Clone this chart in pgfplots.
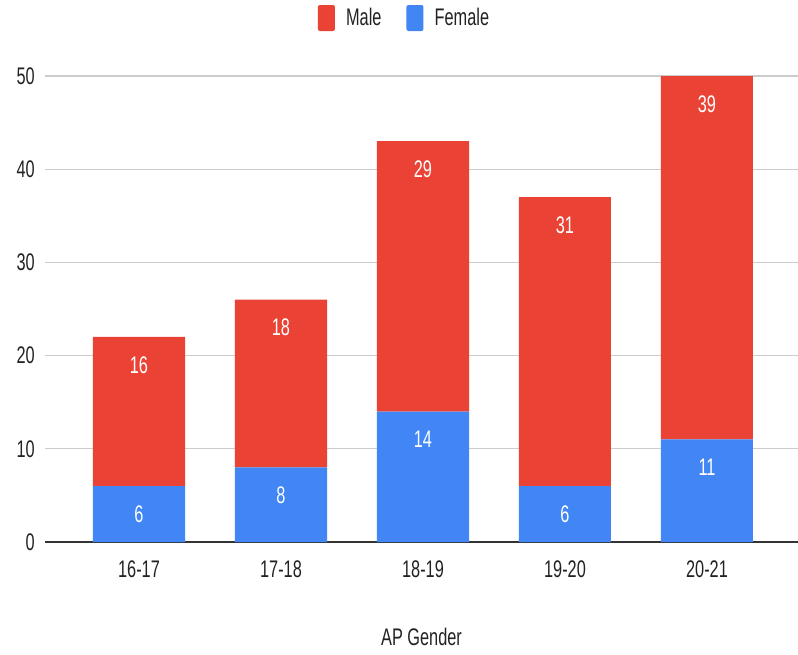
\documentclass[border=0pt]{standalone}
\usepackage{pgfplots}
\pgfplotsset{compat=1.18}
\usepackage{pgfplotstable}
\usepackage{fontspec}
\setmainfont{Liberation Sans}[FakeStretch=0.68]
\definecolor{gred}{HTML}{EA4335}
\definecolor{gblue}{HTML}{4285F4}
\definecolor{txt}{HTML}{222222}
\pgfplotstableread{
x f m
0 6 16
1 8 18
2 14 29
3 6 31
4 11 39
}\data
\begin{document}
\begin{tikzpicture}
\path[use as bounding box] (0pt,0pt) rectangle (798pt,654pt);
\begin{axis}[
  at={(45pt,112pt)}, anchor=south west,
  scale only axis, width=753pt, height=466pt,
  ybar stacked, bar width=0.648,
  xmin=-0.662, xmax=4.641, ymin=0, ymax=50,
  xtick={0,1,2,3,4}, xticklabels={16-17,17-18,18-19,19-20,20-21},
  ytick={0,10,20,30,40,50},
  /pgf/number format/assume math mode=true,
  major tick length=0pt,
  axis line style={draw=none},
  ymajorgrids, grid style={color=black!20, line width=1.3pt},
  extra y ticks={0}, extra y tick labels={},
  extra y tick style={grid style={color=black!80, line width=1.8pt}},
  ticklabel style={font=\fontsize{24}{28}\selectfont, text=txt},
  yticklabel style={inner sep=0pt, anchor=east, xshift=-10pt},
  xticklabel style={inner sep=0pt, anchor=north, yshift=-19pt},
  xlabel={AP Gender},
  xlabel style={font=\fontsize{24}{28}\selectfont, text=txt, at={(axis description cs:0.5,0)}, anchor=center, yshift=-95pt},
  point meta=explicit,
  nodes near coords,
  legend style={draw=none, fill=none, legend columns=2, at={(0.5,1)}, anchor=center, yshift=58pt, xshift=-17pt,
    font=\fontsize{24}{28}\selectfont, text=txt,
    /tikz/every even column/.append style={column sep=23pt}},
  legend image code/.code={\path[#1, draw=none, rounded corners=2pt] (0pt,-13pt) rectangle (17pt,13pt); \path (26pt,0pt);},
]
\addlegendimage{fill=gred}
\addlegendentry{Male}
\addlegendimage{fill=gblue}
\addlegendentry{Female}
\addplot[fill=gblue, draw=none, forget plot,
  visualization depends on={\thisrow{f} \as \v},
  every node near coord/.append style={anchor=center, yshift=\v*4.66pt-28pt, text=white, font=\fontsize{24}{28}\selectfont}]
  table[x=x, y=f, meta=f] {\data};
\addplot[fill=gred, draw=none, forget plot,
  visualization depends on={\thisrow{m} \as \v},
  every node near coord/.append style={anchor=center, yshift=\v*4.66pt-28pt, text=white, font=\fontsize{24}{28}\selectfont}]
  table[x=x, y=m, meta=m] {\data};
\end{axis}
\end{tikzpicture}
\end{document}
